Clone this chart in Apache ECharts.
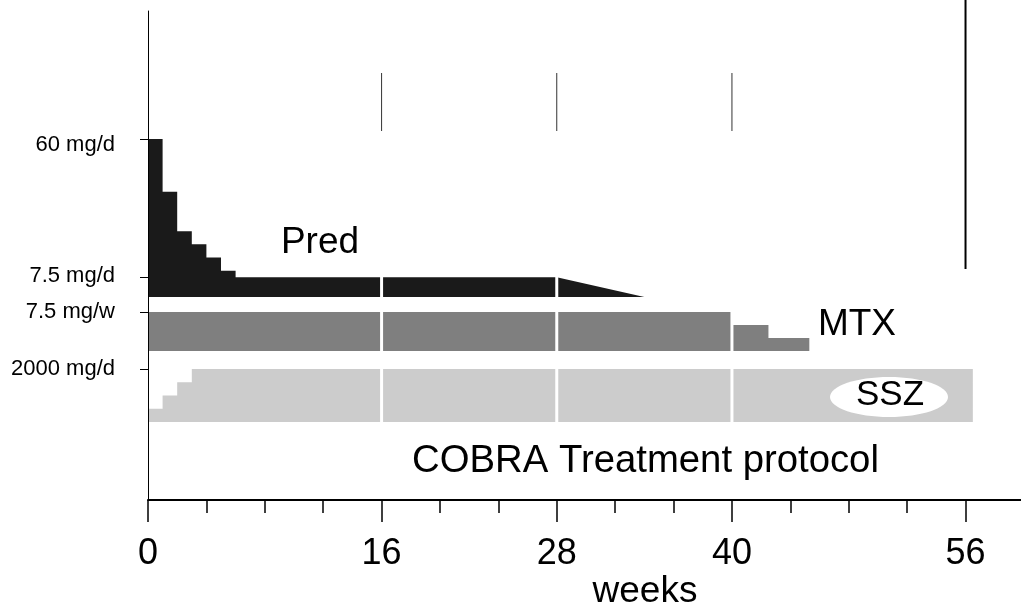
<!DOCTYPE html>
<html>
<head>
<meta charset="utf-8">
<script src="https://cdn.jsdelivr.net/npm/echarts@6/dist/echarts.min.js"></script>
<style>
  html, body { margin: 0; padding: 0; background: #fff; }
  #chart { width: 1021px; height: 609px; }
</style>
</head>
<body>
<div id="chart"></div>
<script>
// ---- data (weeks / doses) ----
const weeksAxisMax = 59.8;
const majorWeeks = [0, 16, 28, 40, 56];
const minorWeeks = [4, 8, 12, 20, 24, 32, 36, 44, 48, 52];

// Prednisolone (mg/d): segments start week, end week, dose at start, dose at end
const predStart    = [0, 1, 2, 3, 4, 5, 6, 28];
const predEnd      = [1, 2, 3, 4, 5, 6, 28, 34];
const predDoseFrom = [60, 40, 25, 20, 15, 10, 7.5, 7.5];
const predDoseTo   = [60, 40, 25, 20, 15, 10, 7.5, 0];

// Methotrexate (mg/w)
const mtxStart = [0, 40, 42.5];
const mtxEnd   = [40, 42.5, 45.3];
const mtxDose  = [7.5, 5, 2.5];

// Sulfasalazine (mg/d)
const sszStart = [0, 1, 2, 3];
const sszEnd   = [1, 2, 3, 56.5];
const sszDose  = [500, 1000, 1500, 2000];

const visitWeeks = [16, 28, 40];
const endWeeks = [56];

const predTicks = [7.5, 60];
const mtxTicks = [7.5];
const sszTicks = [2000];

// ---- chart ----
const FONT = '"Liberation Sans", Arial, Helvetica, sans-serif';
const chart = echarts.init(document.getElementById('chart'), null, { renderer: 'canvas' });

// turn dose segments into the outline points of one filled area
function outline(starts, ends, from, to) {
  const pts = [];
  starts.forEach((s, i) => { pts.push([s, from[i]]); pts.push([ends[i], to[i]]); });
  return pts;
}
function vline(width, color) {
  return function (params, api) {
    const w = api.value(0);
    const a = api.coord([w, 0]), b = api.coord([w, 1]);
    return { type: 'line', shape: { x1: a[0], y1: a[1], x2: b[0], y2: b[1] },
             style: { stroke: color, lineWidth: width } };
  };
}

const gridBase = { left: 148, right: 0, outerBoundsMode: 'none', containLabel: false };
const grids = [
  Object.assign({ top: 11, height: 489 }, gridBase),   // 0 main axes
  Object.assign({ top: 139, height: 158 }, gridBase),  // 1 Pred
  Object.assign({ top: 312, height: 39 }, gridBase),   // 2 MTX
  Object.assign({ top: 369, height: 53 }, gridBase),   // 3 SSZ
  Object.assign({ top: 137, height: 287 }, gridBase),  // 4 white gaps
  Object.assign({ top: 73, height: 58 }, gridBase),    // 5 visit lines
  Object.assign({ top: 0, height: 269 }, gridBase)     // 6 end line
];

function hiddenX(gi) {
  return { type: 'value', gridIndex: gi, min: 0, max: weeksAxisMax, show: false };
}
function hiddenY(gi) {
  return { type: 'value', gridIndex: gi, min: 0, max: 1, show: false };
}
function doseY(gi, max, ticks, unit, richKey) {
  return {
    type: 'value', gridIndex: gi, min: 0, max: max,
    axisLine: { show: false },
    splitLine: { show: false },
    axisTick: { show: true, customValues: ticks, length: 8, inside: false,
                lineStyle: { color: '#000', width: 1 } },
    axisLabel: {
      show: true, customValues: ticks, margin: 33, color: '#000',
      fontSize: 22, fontFamily: FONT,
      formatter: function (v) {
        const key = richKey ? richKey(v) : 'n';
        return '{' + key + '|' + v + ' ' + unit + '}';
      },
      rich: {
        n: { fontSize: 22, fontFamily: FONT, color: '#000' },
        dn: { fontSize: 22, fontFamily: FONT, color: '#000', padding: [11, 0, 0, 0] },
        up: { fontSize: 22, fontFamily: FONT, color: '#000', padding: [0, 0, 3, 0] }
      }
    }
  };
}
function doseArea(name, xi, yi, color, pts) {
  return {
    name: name, type: 'line', xAxisIndex: xi, yAxisIndex: yi, z: 2,
    symbol: 'none', silent: true, clip: false,
    lineStyle: { width: 0, color: color },
    itemStyle: { color: color },
    areaStyle: { color: color, opacity: 1, origin: 'start' },
    data: pts
  };
}

const option = {
  backgroundColor: '#fff',
  animation: false,
  grid: grids,
  xAxis: [
    {
      type: 'value', gridIndex: 0, min: 0, max: weeksAxisMax, position: 'bottom', offset: 0,
      axisLine: { show: true, lineStyle: { color: '#000', width: 2 } },
      axisTick: { show: true, customValues: majorWeeks, length: 22, inside: false,
                  lineStyle: { color: '#000', width: 1.5 } },
      axisLabel: { show: true, customValues: majorWeeks, fontSize: 36, color: '#000',
                   fontFamily: FONT, margin: 36 },
      splitLine: { show: false }
    },
    {
      type: 'value', gridIndex: 0, min: 0, max: weeksAxisMax,
      position: 'bottom', offset: 0,
      axisLine: { show: false },
      axisTick: { show: true, customValues: minorWeeks, length: 13, inside: false,
                  lineStyle: { color: '#000', width: 1.5 } },
      axisLabel: { show: false },
      splitLine: { show: false }
    },
    hiddenX(1), hiddenX(2), hiddenX(3), hiddenX(4), hiddenX(5), hiddenX(6)
  ],
  yAxis: [
    {
      type: 'value', gridIndex: 0, min: 0, max: 1, z: 10,
      axisLine: { show: true, lineStyle: { color: '#000', width: 1 } },
      axisTick: { show: false }, axisLabel: { show: false }, splitLine: { show: false }
    },
    doseY(1, 60, predTicks, 'mg/d', function (v) { return v === 60 ? 'dn' : 'up'; }),
    doseY(2, 7.5, mtxTicks, 'mg/w'),
    doseY(3, 2000, sszTicks, 'mg/d'),
    hiddenY(4), hiddenY(5), hiddenY(6)
  ],
  series: [
    doseArea('Pred', 2, 1, '#1a1a1a', outline(predStart, predEnd, predDoseFrom, predDoseTo)),
    doseArea('MTX', 3, 2, '#7f7f7f', outline(mtxStart, mtxEnd, mtxDose, mtxDose)),
    doseArea('SSZ', 4, 3, '#cccccc', outline(sszStart, sszEnd, sszDose, sszDose)),
    {
      name: 'gaps', type: 'custom', xAxisIndex: 5, yAxisIndex: 4, z: 5, clip: false,
      renderItem: vline(3, '#ffffff'),
      data: visitWeeks.map(w => [w, 0])
    },
    {
      name: 'visits', type: 'custom', xAxisIndex: 6, yAxisIndex: 5, z: 3, clip: false,
      renderItem: vline(1, '#333333'),
      data: visitWeeks.map(w => [w, 0])
    },
    {
      name: 'end', type: 'custom', xAxisIndex: 7, yAxisIndex: 6, z: 3, clip: false,
      renderItem: vline(2, '#000000'),
      data: endWeeks.map(w => [w, 0])
    }
  ],
  graphic: [
    { type: 'text', z: 100, x: 320, y: 243,
      style: { text: 'Pred', fontSize: 37, fontFamily: FONT, fill: '#000', align: 'center', verticalAlign: 'middle' } },
    { type: 'text', z: 100, x: 857, y: 325,
      style: { text: 'MTX', fontSize: 37, fontFamily: FONT, fill: '#000', align: 'center', verticalAlign: 'middle' } },
    { type: 'ellipse', z: 100, shape: { cx: 889, cy: 397, rx: 59, ry: 20 }, style: { fill: '#ffffff' } },
    { type: 'text', z: 101, x: 890, y: 395,
      style: { text: 'SSZ', fontSize: 35, fontFamily: FONT, fill: '#000', align: 'center', verticalAlign: 'middle' } },
    { type: 'text', z: 100, x: 645.5, y: 461,
      style: { text: 'COBRA Treatment protocol', fontSize: 38.3, fontFamily: FONT, fill: '#000', align: 'center', verticalAlign: 'middle' } },
    { type: 'text', z: 100, x: 645, y: 592,
      style: { text: 'weeks', fontSize: 37, fontFamily: FONT, fill: '#000', align: 'center', verticalAlign: 'middle' } }
  ]
};
chart.setOption(option);
</script>
</body>
</html>
